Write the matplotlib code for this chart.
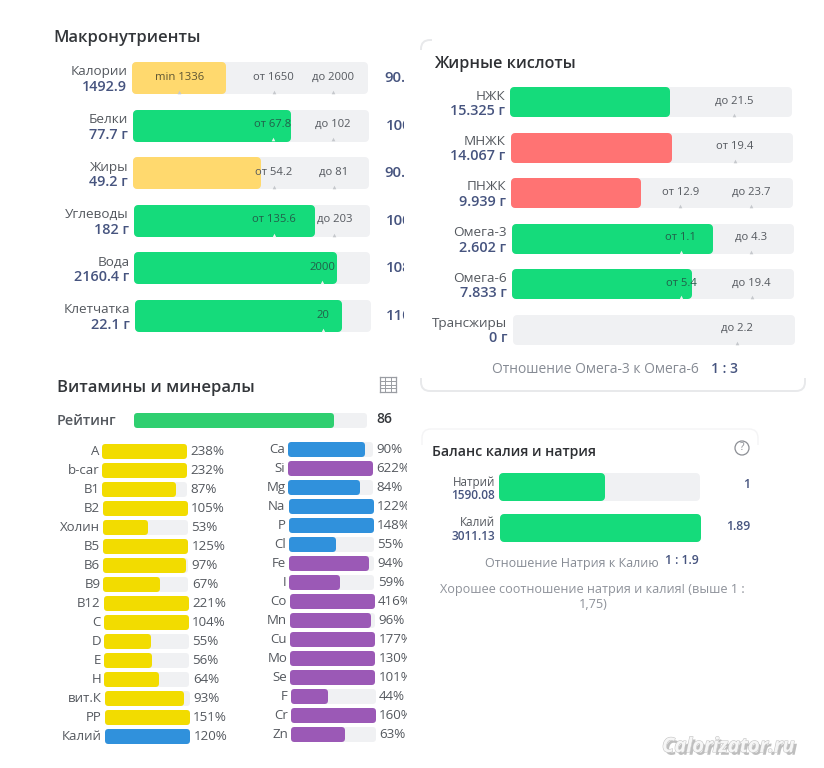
import numpy as np
from matplotlib import pyplot as plt
from matplotlib import patheffects as pe
from matplotlib.patches import FancyBboxPatch, Circle, Rectangle

plt.rcParams['font.family'] = ['Open Sans', 'Noto Sans', 'DejaVu Sans']

W, H = 824, 768

GREEN = '#15db7b'
RED = '#ff7373'
SAND = '#ffd96e'
YELLOW = '#f2dc00'
BLUE = '#3091dc'
PURPLE = '#9b59b6'
TRACK = '#f0f1f3'
NAVY = '#46547f'
GRAY = '#54585e'

macro_names = ['Калории', 'Белки', 'Жиры', 'Углеводы', 'Вода', 'Клетчатка']
macro_values = ['1492.9', '77.7 г', '49.2 г', '182 г', '2160.4 г', '22.1 г']
macro_fill = [39.8, 67, 54.3, 76.7, 86, 87.7]
macro_colors = [SAND, GREEN, SAND, GREEN, GREEN, GREEN]
macro_right = ['90.5', '100', '90.8', '100', '108', '110']
macro_marks = [['min 1336', 'от 1650', 'до 2000'], ['от 67.8', 'до 102'], ['от 54.2', 'до 81'],
               ['от 135.6', 'до 203'], ['2000'], ['20']]
macro_mark_pct = [[20, 60, 85], [59.5, 85], [59.5, 85], [59.5, 85], [79.5], [79.5]]

fat_names = ['НЖК', 'МНЖК', 'ПНЖК', 'Омега-3', 'Омега-6', 'Трансжиры']
fat_values = ['15.325 г', '14.067 г', '9.939 г', '2.602 г', '7.833 г', '0 г']
fat_fill = [56.7, 57.4, 46, 71.6, 63.8, 0]
fat_colors = [GREEN, RED, RED, GREEN, GREEN, GREEN]
fat_marks = [['до 21.5'], ['от 19.4'], ['от 12.9', 'до 23.7'], ['от 1.1', 'до 4.3'],
             ['от 5.4', 'до 19.4'], ['до 2.2']]
fat_mark_pct = [[79.5], [79.5], [60, 85], [60, 85], [60, 85], [79.5]]

vit_names = ['A', 'b-car', 'B1', 'B2', 'Холин', 'B5', 'B6', 'B9', 'B12', 'C', 'D', 'E', 'H',
             'вит.К', 'PP', 'Калий']
vit_pct = [238, 232, 87, 105, 53, 125, 97, 67, 221, 104, 55, 56, 64, 93, 151, 120]
vit_colors = [YELLOW] * 15 + [BLUE]

min_names = ['Ca', 'Si', 'Mg', 'Na', 'P', 'Cl', 'Fe', 'I', 'Co', 'Mn', 'Cu', 'Mo', 'Se', 'F', 'Cr', 'Zn']
min_pct = [90, 622, 84, 122, 148, 55, 94, 59, 416, 96, 177, 130, 101, 44, 160, 63]
min_colors = [BLUE, PURPLE, BLUE, BLUE, BLUE, BLUE, PURPLE, PURPLE, PURPLE, PURPLE, PURPLE,
              PURPLE, PURPLE, PURPLE, PURPLE, PURPLE]

rating = 86

balance_names = ['Натрий', 'Калий']
balance_values = [1590.08, 3011.13]
balance_right = ['1', '1.89']


def px(x, y):
    return x / W, 1 - y / H


def ftext(x, y, s, size=9.5, color=GRAY, weight='normal', ha='left', **kw):
    fx, fy = px(x, y)
    return fig.text(fx, fy, s, fontsize=size, color=color, fontweight=weight, ha=ha, va='center', **kw)


def panel(x0, y_first, spacing, n, track_w, axes_w):
    # one axes per block, x in percent of the track, y in rows
    top = y_first - spacing / 2
    ax = fig.add_axes([x0 / W, 1 - (top + spacing * n) / H, axes_w / W, spacing * n / H])
    ax.set_xlim(0, 100 * axes_w / track_w)
    ax.set_ylim(n - 0.5, -0.5)
    ax.axis('off')
    return ax


def round_bars(ax, rows, pct, colors, offset, bar_h, spacing, track_w, r=4):
    # rounded corners come from a thick round-joined edge
    r_x = r / track_w * 100
    pct = np.asarray(pct, dtype=float)
    show = pct > 0
    ax.barh(np.asarray(rows)[show], (pct - 2 * r_x)[show], left=(offset + r_x)[show],
            height=(bar_h - 2 * r) / spacing,
            color=np.asarray(colors)[show], edgecolor=np.asarray(colors)[show],
            linewidth=2 * r * 72 / 100, joinstyle='round', clip_on=False)


def block(x0, y_first, spacing, track_w, axes_w, drift, bar_h, names, values, fill, colors, marks, mark_pct):
    n = len(names)
    rows = np.arange(n)
    ax = panel(x0, y_first, spacing, n, track_w, axes_w)
    offset = rows * drift / track_w * 100
    round_bars(ax, rows, np.full(n, 100.0), [TRACK] * n, offset, bar_h, spacing, track_w)
    round_bars(ax, rows, fill, colors, offset, bar_h, spacing, track_w)
    for i in rows:
        ax.annotate(names[i], (offset[i], i), xytext=(-5, 6), textcoords='offset pixels',
                    ha='right', va='center', fontsize=9.7, color=GRAY, annotation_clip=False)
        ax.annotate(values[i], (offset[i], i), xytext=(-5, -9), textcoords='offset pixels',
                    ha='right', va='center', fontsize=10.4, color=NAVY, fontweight='semibold',
                    annotation_clip=False)
        for label, pos in zip(marks[i], mark_pct[i]):
            inside = pos < fill[i]
            if colors[i] == SAND and inside:
                tcol = '#5c5433'
            elif inside:
                tcol = '#22604a'
            else:
                tcol = '#55595f'
            ax.text(pos + offset[i], i - 0.02, label, ha='center', va='center', fontsize=8.1, color=tcol)
            ax.plot(pos + offset[i], i + 0.29, marker='^', ms=2.6, mew=0,
                    color='#eef3ef' if inside and colors[i] == GREEN else '#c5c8cc', clip_on=False)
    return ax, offset


def pct_column(x0, y_first, spacing, track_w, axes_w, drift, names, pct, colors, clip):
    n = len(names)
    rows = np.arange(n)
    ax = panel(x0, y_first, spacing, n, track_w, axes_w)
    offset = rows * drift / track_w * 100
    round_bars(ax, rows, np.full(n, 100.0), [TRACK] * n, offset, 15, spacing, track_w, r=3)
    round_bars(ax, rows, np.minimum(pct, 100), colors, offset, 15, spacing, track_w, r=3)
    for i in rows:
        ax.annotate(names[i], (offset[i], i), xytext=(-3, 0), textcoords='offset pixels',
                    ha='right', va='center', fontsize=9.5, color=GRAY, annotation_clip=False)
        ax.text(offset[i] + 104, i, '%d%%' % pct[i], ha='left', va='center', fontsize=9.6,
                color=GRAY, clip_on=clip)
    return ax


fig = plt.figure(figsize=(W / 100, H / 100), dpi=100, facecolor='white')

# cards behind the blocks
bg = fig.add_axes([0, 0, 1, 1])
bg.set_xlim(0, W)
bg.set_ylim(H, 0)
bg.axis('off')
bg.add_patch(FancyBboxPatch((421, 40), 384, 351, boxstyle='round,pad=0,rounding_size=9',
                            fc='white', ec='#e8e9eb', lw=1.4))
bg.add_patch(Rectangle((432, 36), 378, 14, fc='white', ec='none'))
bg.add_patch(Rectangle((416, 50), 394, 328, fc='white', ec='none'))
bg.add_patch(FancyBboxPatch((422, 429), 336, 196, boxstyle='round,pad=0,rounding_size=9',
                            fc='white', ec='#f4f4f5', lw=1))
bg.add_patch(Rectangle((418, 445), 345, 182, fc='white', ec='none'))

# Macronutrients
ftext(53, 38.5, 'Макронутриенты', size=12, color='#33363a', weight='semibold')
ax, off = block(132, 78, 47.6, 236, 272, 0.6, 32, macro_names, macro_values, macro_fill, macro_colors,
                macro_marks, macro_mark_pct)
for i, s in enumerate(macro_right):
    ax.text(100 * 267 / 236, i, s, ha='center', va='center', fontsize=10.8, color=NAVY,
            fontweight='semibold', clip_on=True)

# Fatty acids
ftext(434, 64, 'Жирные кислоты', size=11.6, color='#2e3034', weight='semibold')
block(510, 102, 45.5, 282, 290, 0.5, 30, fat_names, fat_values, fat_fill, fat_colors,
      fat_marks, fat_mark_pct)
ftext(492, 370, 'Отношение Омега-3 к Омега-6', size=10, color='#868b94')
ftext(711, 369, '1 : 3', size=10, color=NAVY, weight='semibold')

# Vitamins and minerals
ftext(57, 388, 'Витамины и минералы', size=12, color='#33363a', weight='semibold')
ftext(57, 421, 'Рейтинг', size=10.4, color=GRAY, weight='semibold')
rate_ax = panel(134, 420, 20, 1, 233, 233)
round_bars(rate_ax, [0], [100.0], [TRACK], np.zeros(1), 15, 20, 233, r=3)
round_bars(rate_ax, [0], [rating], ['#2fcf70'], np.zeros(1), 15, 20, 233, r=3)
ftext(376, 419, str(rating), size=10, color='#33363a', weight='semibold')

pct_column(102, 452, 18.95, 85, 120, 0.2, vit_names, vit_pct, vit_colors, False)
pct_column(288, 450, 18.95, 85, 119, 0.2, min_names, min_pct, min_colors, True)

# table icon next to the vitamins title
icon = fig.add_axes([380 / W, 1 - 392 / H, 16 / W, 15 / H])
icon.set_xlim(0, 4)
icon.set_ylim(0, 4)
icon.set_xticks([0, 4 / 3, 8 / 3, 4])
icon.set_yticks([0, 1, 2, 3, 4])
icon.grid(color='#9a9da3', lw=0.7)
icon.tick_params(length=0, labelbottom=False, labelleft=False)
for s in icon.spines.values():
    s.set_color('#9a9da3')
    s.set_linewidth(0.9)

# Sodium / potassium balance
ftext(432, 452, 'Баланс калия и натрия', size=10.2, color='#2e3034', weight='semibold')
bal_ax = panel(499, 487, 41, 2, 201, 201)
bal_fill = np.array(balance_values) / max(balance_values) * 100
round_bars(bal_ax, [0, 1], [100.0, 100.0], [TRACK, TRACK], np.array([0.0, 0.5]), 28, 41, 201)
round_bars(bal_ax, [0, 1], bal_fill, [GREEN, GREEN], np.array([0.0, 0.5]), 28, 41, 201)
for i, name in enumerate(balance_names):
    bal_ax.annotate(name, (0, i), xytext=(-4, 5), textcoords='offset pixels', ha='right', va='center',
                    fontsize=8.4, color=GRAY, annotation_clip=False)
    bal_ax.annotate('%.2f' % balance_values[i], (0, i), xytext=(-4, -8), textcoords='offset pixels',
                    ha='right', va='center', fontsize=8.6, color=NAVY, fontweight='semibold',
                    annotation_clip=False)
    ftext(750, 485 + 41 * i, balance_right[i], size=8.8, color=NAVY, weight='semibold', ha='right')
ftext(485, 563, 'Отношение Натрия к Калию', size=9, color='#868b94')
ftext(665, 561, '1 : 1.9', size=8.8, color=NAVY, weight='semibold')
ftext(592, 589, 'Хорошее соотношение натрия и калия! (выше 1 :', size=9.1, color='#8e929a', ha='center')
ftext(593, 605, '1,75)', size=9.1, color='#8e929a', ha='center')

# help icon
bg.add_patch(Circle((742, 448), 7, fc='none', ec='#8b8e94', lw=0.9))
bg.text(742, 448, '?', ha='center', va='center', fontsize=7.5, color='#8b8e94')

# watermark
ftext(662, 747, 'Calorizator.ru', size=14.5, color='#f6f6f6', weight='bold', style='italic',
      path_effects=[pe.withSimplePatchShadow(offset=(2, -2), shadow_rgbFace='#8a8a8a', alpha=0.55),
                    pe.Stroke(linewidth=0.8, foreground='#c4c4c4'), pe.Normal()])

fig.savefig('out.png', dpi=100)
